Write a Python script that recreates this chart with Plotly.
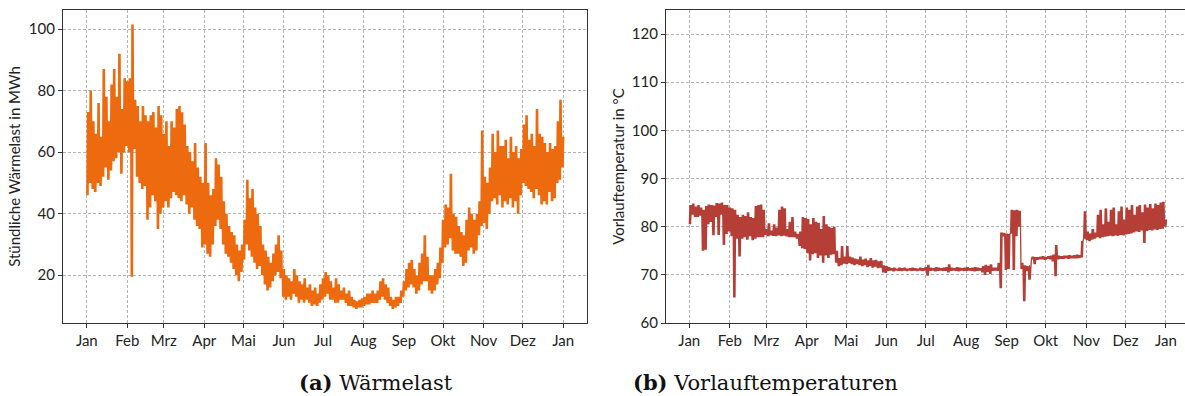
import pandas as pd
import plotly.graph_objects as go

# ---------------- data (2-day steps: low / high of hourly values) ----------------
months = ["Jan", "Feb", "Mrz", "Apr", "Mai", "Jun", "Jul", "Aug", "Sep", "Okt", "Nov", "Dez", "Jan"]
month_starts = ["2019-01-01", "2019-02-01", "2019-03-01", "2019-04-01", "2019-05-01", "2019-06-01",
                "2019-07-01", "2019-08-01", "2019-09-01", "2019-10-01", "2019-11-01", "2019-12-01",
                "2020-01-01"]

load_lo = [46, 50, 48, 47, 50, 49, 52, 55, 51, 54, 57, 58, 60, 53, 60, 62, 60, 19.5, 61, 52,
           50, 48, 49, 38, 42, 46, 44, 35, 40, 42, 44, 42, 45, 47, 46, 45, 44, 46, 43, 40,
           42, 38, 36, 35, 29, 30, 27, 26, 30, 36, 38, 35, 30, 27, 26, 24, 22, 20, 18, 21,
           25, 30, 28, 26, 24, 22, 23, 20, 17, 15, 16, 18, 20, 21, 19, 13, 12, 13, 12, 14,
           13, 11, 12, 11, 12, 11, 10, 10.5, 10, 11, 12, 13, 14, 12, 12, 11, 11, 12, 12, 11,
           10, 10, 9.5, 9, 9.5, 9.5, 10, 10.5, 10.5, 11, 11, 11, 12, 13, 12, 11, 10, 9, 9.5, 10,
           11, 13, 15, 16, 17, 16, 14, 15, 17, 18, 18, 15, 14, 15, 17, 19, 24, 29, 30, 32,
           28, 27, 27, 26, 23, 24, 28, 29, 27, 28, 33, 36, 37, 35, 40, 44, 45, 43, 46, 42,
           44, 43, 45, 42, 44, 40, 46, 50, 49, 48, 47, 45, 48, 46, 43, 44, 43, 47, 44, 45,
           50, 51, 55]
load_hi = [73, 80, 70, 66, 76, 65, 87, 78, 70, 82, 87, 78, 92, 74, 84, 83, 84, 101.5, 77, 75,
           70, 75, 72, 70, 72, 73, 68, 75, 72, 66, 70, 62, 70, 68, 74, 75, 73, 69, 62, 60,
           57, 63, 55, 52, 50, 63, 50, 46, 48, 58, 56, 52, 44, 40, 36, 34, 33, 30, 28, 30,
           38, 51, 45, 48, 42, 40, 36, 30, 28, 26, 24, 27, 30, 33, 28, 22, 20, 19, 18, 22,
           20, 18, 17, 19, 16, 17, 15, 16, 14, 17, 19, 21, 20, 18, 16, 19, 17, 15, 16, 14,
           15, 13, 12, 11.5, 12, 12.5, 13, 14, 14, 15, 14, 15, 18, 19, 17, 16, 13, 12, 13, 13,
           15, 18, 22, 24, 25, 22, 20, 24, 27, 33, 26, 20, 20, 22, 24, 29, 38, 43, 42, 53,
           40, 39, 36, 34, 33, 38, 42, 40, 38, 40, 44, 67, 52, 50, 55, 66, 60, 67, 62, 62,
           64, 58, 65, 60, 62, 58, 61, 69, 72, 64, 66, 62, 74, 66, 65, 63, 60, 63, 61, 62,
           70, 77, 65]

temp_lo = [80.5, 82.5, 82, 82, 82.3, 75, 75.2, 80.5, 81, 78.2, 82, 78.3, 82.5, 76.2, 78.5, 79, 78, 65.3, 77.5, 73.8,
           77.5, 77.8, 77.3, 78, 77.2, 77.5, 77.8, 77.8, 77.8, 78.3, 78, 78.2, 78.1, 78, 78.2, 78, 78.1, 78, 77.8, 77.8,
           77.8, 77.5, 76, 75.5, 75.3, 74.5, 73, 74.3, 74.5, 73.5, 74, 72.5, 74, 73.5, 74.2, 74.3, 72.5, 71.8, 72, 72.3,
           72.2, 72.4, 72.2, 72, 72.2, 72, 71.8, 72, 71.6, 71.8, 71.5, 71.7, 71.4, 71.5, 70.5, 70.4, 70.8, 70.9, 70.7, 70.9,
           70.8, 70.8, 70.9, 70.8, 70.9, 70.8, 70.9, 70.8, 70.9, 70.8, 70.9, 69.8, 70.8, 70.9, 70.7, 70.8, 70.9, 70.8, 70.8, 70.5,
           70.8, 70.9, 70.8, 70.7, 70.9, 70.8, 70.8, 70.9, 70.8, 70.7, 70.8, 70.9, 70.5, 70, 70.6, 70.2, 70.8, 70.9, 70.8, 67.2,
           78, 71, 71.2, 78.6, 71, 78, 80, 71.2, 64.5, 70.8, 69, 73.2, 72.2, 73.1, 73.2, 73.2, 73.1, 73.3, 73.2, 72.8,
           69.7, 73.2, 73.3, 73.3, 73.4, 73.3, 73.4, 73.4, 73.4, 73.5, 73.6, 77.5, 77.2, 77, 77.3, 77.5, 77.8, 77.6, 77.8, 77.9,
           78, 78.1, 78, 78.2, 78.1, 78.3, 78.2, 78.4, 78.5, 78.6, 78.8, 79, 78.9, 79.2, 76.6, 79.1, 79.3, 79.2, 79.4, 79.3,
           79.5, 79.6, 80]
temp_hi = [84.5, 84.8, 84.2, 84.5, 84, 83.5, 84.3, 84.6, 84.5, 84.4, 84.9, 84.8, 85, 84.5, 84.5, 84, 83.8, 83.5, 82.5, 82,
           82.5, 82.2, 83, 82, 81.8, 84.3, 84.5, 84.6, 83.5, 79.5, 80.7, 79.2, 80.5, 79.8, 83.5, 84.2, 83.8, 79.5, 81, 82,
           79, 78.5, 79, 82, 81.8, 81.6, 80.5, 81.8, 81, 80.8, 79.5, 82.2, 80.5, 80, 79.8, 80, 75, 73.5, 76, 73.8,
           76, 73.8, 73.6, 73.4, 73.2, 73.8, 73.2, 73.4, 73, 73.5, 73, 73.1, 72.8, 72.9, 72, 71.8, 71.6, 71.4, 71.5, 71.3,
           71.5, 71.4, 71.5, 71.3, 71.4, 71.5, 71.4, 71.3, 71.5, 71.4, 71.6, 72.1, 71.5, 71.4, 71.6, 71.5, 71.4, 71.5, 71.6, 72.2,
           71.5, 71.4, 71.6, 71.5, 71.4, 71.5, 71.6, 71.4, 71.5, 71.6, 71.5, 71.4, 71.8, 72.1, 71.9, 72.2, 71.5, 71.5, 72.5, 78.8,
           78.7, 78.6, 78.5, 83.5, 83.4, 83.5, 83.3, 72.5, 72, 71.8, 72, 73.8, 73.7, 73.7, 73.8, 73.9, 73.7, 73.9, 74, 74.2,
           76.2, 74, 73.9, 74, 74, 74.1, 74, 74.1, 74.2, 74.1, 77, 83.2, 79, 78.6, 79.5, 78.8, 82.5, 83.5, 80.5, 83.8,
           81, 83.5, 84, 80.5, 83.2, 84.2, 81.5, 84, 83.5, 84.5, 82.5, 84.2, 84.5, 83, 84.6, 84, 84.7, 83.8, 84.8, 84.5,
           85, 85.2, 81.5]

# ---------------- build hourly-like series from the lists ----------------
# each 2-day step swings between its low and high value every 12 hours
base = pd.Timestamp("2019-01-01")


def swing(lo, hi):
    hours, vals = [], []
    for i, (a, b) in enumerate(zip(lo, hi)):
        for k in range(4):
            hours.append(48 * i + 12 * k)
            vals.append(a if k % 2 == 0 else b)
    return base + pd.to_timedelta(hours, unit="h"), vals


x_load, y_load = swing(load_lo, load_hi)
x_temp, y_temp = swing(temp_lo, temp_hi)

W, H = 1185, 396
fig = go.Figure()
fig.add_trace(go.Scatter(x=x_load, y=y_load, mode="lines", xaxis="x", yaxis="y",
                         line=dict(color="#EE6A0E", width=1.3), showlegend=False))
fig.add_trace(go.Scatter(x=x_temp, y=y_temp, mode="lines", xaxis="x2", yaxis="y2",
                         line=dict(color="#B53F37", width=1.3), showlegend=False))

tickfont = dict(family="Lato", size=15, color="#222222")
common_x = dict(tickmode="array", tickvals=month_starts, ticktext=months, tickfont=tickfont,
                showgrid=True, gridcolor="#b4b4b4", gridwidth=0.8, griddash="3px,2px",
                showline=True, linecolor="#333333", linewidth=1.2, mirror=True,
                ticks="outside", ticklen=4, tickcolor="#333333", zeroline=False, automargin=False)
common_y = dict(tickfont=tickfont, showgrid=True, gridcolor="#b4b4b4", gridwidth=0.8, griddash="3px,2px",
                showline=True, linecolor="#333333", linewidth=1.2, mirror=True,
                ticks="outside", ticklen=4, tickcolor="#333333", zeroline=False, automargin=False)

d = pd.Timedelta(days=1)
fig.update_layout(
    width=W, height=H, margin=dict(l=0, r=0, t=0, b=0),
    paper_bgcolor="white", plot_bgcolor="white",
    xaxis=dict(common_x, domain=[63 / W, 587 / W], anchor="y",
               range=[base - 18.25 * d, base + 383.3 * d]),
    yaxis=dict(common_y, domain=[1 - 323 / H, 1 - 10 / H], anchor="x",
               range=[4.45, 106.2], tickvals=[20, 40, 60, 80, 100],
               title=dict(text="Stündliche Wärmelast in MWh", font=dict(family="Lato", size=15, color="#222222"),
                          standoff=4)),
    xaxis2=dict(common_x, domain=[666 / W, 1.0], anchor="y2",
                range=[base - 17.84 * d, base + 379.6 * d]),
    yaxis2=dict(common_y, domain=[1 - 323 / H, 1 - 10 / H], anchor="x2",
                range=[60, 125], tickvals=[60, 70, 80, 90, 100, 110, 120],
                title=dict(text="Vorlauftemperatur in °C", font=dict(family="Lato", size=15, color="#222222"),
                           standoff=3)),
)

cap_font = dict(family="DejaVu Serif", size=21, color="#111111")
fig.add_annotation(x=297 / W, y=1 - 382 / H, xref="paper", yref="paper",
                   text="<b>(a)</b> Wärmelast", showarrow=False, font=cap_font, yanchor="middle")
fig.add_annotation(x=900 / W, y=1 - 382 / H, xref="paper", yref="paper",
                   text="<b>(b)</b> Vorlauftemperaturen", showarrow=False, font=cap_font, yanchor="middle")

fig.write_html("out.html", config={"displayModeBar": False},
               post_script="document.body.style.margin='0';document.body.style.overflow='hidden';")
